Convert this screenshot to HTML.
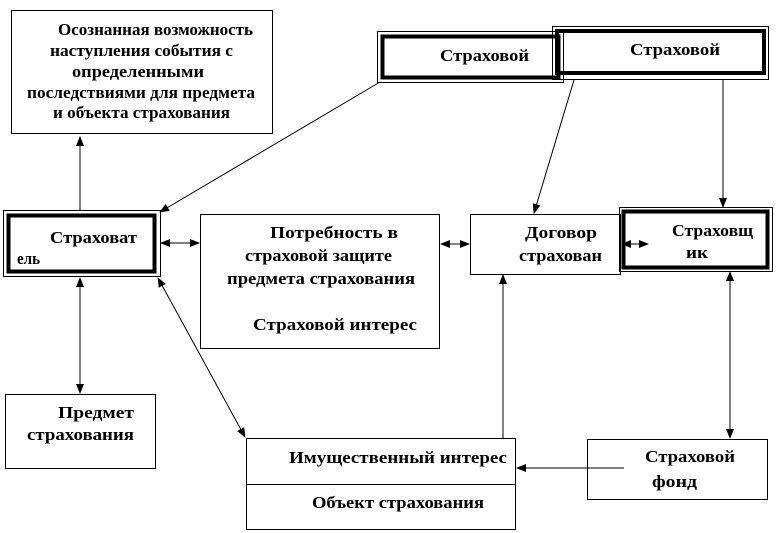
<!DOCTYPE html>
<html><head><meta charset="utf-8"><style>
html,body{margin:0;padding:0;background:#fff;}
svg{display:block;}
text{font-family:"Liberation Serif","DejaVu Serif",serif;font-weight:bold;font-size:17px;fill:#000;}
</style></head><body>
<svg width="779" height="533" viewBox="0 0 779 533" xmlns="http://www.w3.org/2000/svg">
<defs>
<marker id="a" markerWidth="10" markerHeight="10" refX="9" refY="4" orient="auto" markerUnits="userSpaceOnUse">
<path d="M0,0 L10,4 L0,8 z" fill="#000"/></marker>
<marker id="s" markerWidth="10" markerHeight="10" refX="1" refY="4" orient="auto" markerUnits="userSpaceOnUse">
<path d="M10,0 L0,4 L10,8 z" fill="#000"/></marker>
</defs>
<g fill="none" stroke="#000">
<rect x="11.5" y="10.5" width="261" height="123" stroke-width="1"/>
<rect x="377.5" y="31.5" width="186" height="51" stroke-width="1"/>
<rect x="382.5" y="36.5" width="176" height="41" stroke-width="4"/>
<rect x="552.5" y="26.5" width="216" height="53" stroke-width="1"/>
<rect x="557" y="31" width="207" height="42" stroke-width="4"/>
<rect x="3.5" y="210.5" width="157" height="66" stroke-width="1"/>
<rect x="8.5" y="215.5" width="146" height="56" stroke-width="4"/>
<rect x="200.5" y="214.5" width="239" height="134" stroke-width="1"/>
<rect x="470.5" y="214.5" width="150" height="60" stroke-width="1"/>
<rect x="619.5" y="207.5" width="153" height="64" stroke-width="1"/>
<rect x="623.5" y="211.5" width="144" height="56" stroke-width="4"/>
<rect x="5.5" y="394.5" width="150" height="74" stroke-width="1"/>
<rect x="246.5" y="438.5" width="269" height="91" stroke-width="1"/>
<line x1="246" y1="484.5" x2="516" y2="484.5"/>
<rect x="587.5" y="439.5" width="180" height="60" stroke-width="1"/>
</g>
<g stroke="#000" stroke-width="1" fill="none">
<line x1="80" y1="210" x2="80" y2="137" marker-end="url(#a)"/>
<line x1="380" y1="82" x2="160" y2="212" marker-end="url(#a)"/>
<line x1="574" y1="80" x2="534" y2="213" marker-end="url(#a)"/>
<line x1="723" y1="80" x2="723" y2="207" marker-end="url(#a)"/>
<line x1="161" y1="243" x2="199" y2="243" marker-start="url(#s)" marker-end="url(#a)"/>
<line x1="441" y1="244" x2="469" y2="244" marker-start="url(#s)" marker-end="url(#a)"/>
<line x1="622" y1="244" x2="648" y2="244" marker-start="url(#s)" marker-end="url(#a)"/>
<line x1="80" y1="278" x2="80" y2="393" marker-start="url(#s)" marker-end="url(#a)"/>
<line x1="158" y1="278" x2="245" y2="437" marker-start="url(#s)" marker-end="url(#a)"/>
<line x1="503" y1="438" x2="503" y2="275" marker-end="url(#a)"/>
<line x1="730" y1="272" x2="730" y2="438" marker-start="url(#s)" marker-end="url(#a)"/>
<line x1="624" y1="468" x2="517" y2="468" marker-end="url(#a)"/>
</g>
<g>
<text x="58" y="35" textLength="195" lengthAdjust="spacingAndGlyphs">Осознанная возможность</text>
<text x="50" y="56" textLength="183" lengthAdjust="spacingAndGlyphs">наступления события с</text>
<text x="72" y="77" textLength="132" lengthAdjust="spacingAndGlyphs">определенными</text>
<text x="27" y="98" textLength="228" lengthAdjust="spacingAndGlyphs">последствиями для предмета</text>
<text x="53" y="118" textLength="177" lengthAdjust="spacingAndGlyphs">и объекта страхования</text>
<text x="440" y="61" textLength="89" lengthAdjust="spacingAndGlyphs">Страховой</text>
<text x="630" y="55" textLength="90" lengthAdjust="spacingAndGlyphs">Страховой</text>
<text x="50" y="243" textLength="87" lengthAdjust="spacingAndGlyphs">Страховат</text>
<text x="17" y="264" textLength="23" lengthAdjust="spacingAndGlyphs">ель</text>
<text x="270" y="238" textLength="128" lengthAdjust="spacingAndGlyphs">Потребность в</text>
<text x="245" y="261" textLength="147" lengthAdjust="spacingAndGlyphs">страховой защите</text>
<text x="227" y="284" textLength="188" lengthAdjust="spacingAndGlyphs">предмета страхования</text>
<text x="253" y="330" textLength="164" lengthAdjust="spacingAndGlyphs">Страховой интерес</text>
<text x="525" y="238" textLength="72" lengthAdjust="spacingAndGlyphs">Договор</text>
<text x="519" y="261" textLength="83" lengthAdjust="spacingAndGlyphs">страхован</text>
<text x="672" y="236" textLength="81" lengthAdjust="spacingAndGlyphs">Страховщ</text>
<text x="686" y="258" textLength="22" lengthAdjust="spacingAndGlyphs">ик</text>
<text x="58" y="418" textLength="76" lengthAdjust="spacingAndGlyphs">Предмет</text>
<text x="27" y="440" textLength="107" lengthAdjust="spacingAndGlyphs">страхования</text>
<text x="289" y="463" textLength="218" lengthAdjust="spacingAndGlyphs">Имущественный  интерес</text>
<text x="312" y="508" textLength="172" lengthAdjust="spacingAndGlyphs">Объект страхования</text>
<text x="645" y="462" textLength="90" lengthAdjust="spacingAndGlyphs">Страховой</text>
<text x="652" y="487" textLength="45" lengthAdjust="spacingAndGlyphs">фонд</text>
</g>
</svg>
</body></html>
